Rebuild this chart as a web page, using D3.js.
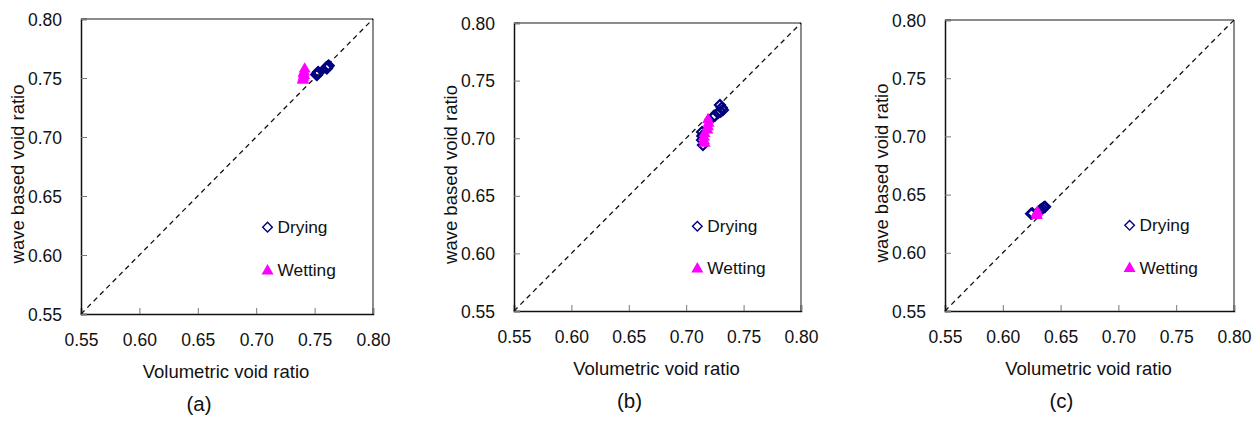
<!DOCTYPE html>
<html>
<head>
<meta charset="utf-8">
<script src="https://cdn.jsdelivr.net/npm/d3@7"></script>
<style>
  html, body { margin: 0; padding: 0; background: #fff; }
  svg { display: block; }
  text { font-family: "Liberation Sans", Arial, sans-serif; fill: #111; }
</style>
</head>
<body>
<svg id="chart" width="1260" height="422"></svg>
<script>
// ---- data ----
const tickValues = [0.55, 0.60, 0.65, 0.70, 0.75, 0.80];
const tickLabels = ["0.55", "0.60", "0.65", "0.70", "0.75", "0.80"];
const panelLabels = ["(a)", "(b)", "(c)"];
const seriesNames = ["Drying", "Wetting"];
const xTitle = "Volumetric void ratio";
const yTitle = "wave based void ratio";

// panel (a)
const dryAx = [0.7515, 0.7525, 0.7535, 0.7520, 0.7530, 0.7600, 0.7610, 0.7620, 0.7605, 0.7615];
const dryAy = [0.7530, 0.7540, 0.7545, 0.7525, 0.7550, 0.7590, 0.7595, 0.7605, 0.7580, 0.7600];
const wetAx = [0.7400, 0.7405, 0.7410, 0.7405, 0.7410, 0.7415, 0.7400];
const wetAy = [0.7490, 0.7505, 0.7520, 0.7535, 0.7550, 0.7575, 0.7480];

// panel (b)
const dryBx = [0.7294, 0.7320, 0.7310, 0.7277, 0.7300, 0.7233, 0.7250, 0.7138, 0.7138, 0.7146, 0.7140];
const dryBy = [0.7288, 0.7245, 0.7265, 0.7219, 0.7230, 0.7184, 0.7195, 0.7054, 0.6984, 0.6941, 0.7020];
const wetBx = [0.7190, 0.7195, 0.7190, 0.7185, 0.7160, 0.7155, 0.7155, 0.7160];
const wetBy = [0.7160, 0.7130, 0.7100, 0.7070, 0.7040, 0.7010, 0.6980, 0.6955];

// panel (c)
const dryCx = [0.6245, 0.6255, 0.6325, 0.6340, 0.6355, 0.6365];
const dryCy = [0.6335, 0.6340, 0.6370, 0.6378, 0.6390, 0.6395];
const wetCx = [0.6290, 0.6300, 0.6295];
const wetCy = [0.6335, 0.6350, 0.6320];

// legend anchor (data coordinates)
const legendX = 0.7097;
const legendY = [0.6236, 0.5865];

// ---- layout ----
const panels = [
  {L: 81,  R: 373,  T: 19, B: 314, dx: dryAx, dy: dryAy, wx: wetAx, wy: wetAy, label: panelLabels[0]},
  {L: 514, R: 801,  T: 23, B: 311, dx: dryBx, dy: dryBy, wx: wetBx, wy: wetBy, label: panelLabels[1]},
  {L: 945, R: 1234, T: 20, B: 311, dx: dryCx, dy: dryCy, wx: wetCx, wy: wetCy, label: panelLabels[2]}
];

const svg = d3.select("#chart");
const diamondPath = "M0,-5L5,0L0,5L-5,0Z";
const triSym = d3.symbol().type(d3.symbolTriangle).size(62)();
const tickFont = "17.5px";

panels.forEach(p => {
  const x = d3.scaleLinear().domain([0.55, 0.80]).range([p.L, p.R]);
  const y = d3.scaleLinear().domain([0.55, 0.80]).range([p.B, p.T]);
  const g = svg.append("g");

  // frame: top/right gray
  g.append("line").attr("x1", p.L).attr("x2", p.R).attr("y1", p.T).attr("y2", p.T)
    .attr("stroke", "#666").attr("stroke-width", 1.5);
  g.append("line").attr("x1", p.R).attr("x2", p.R).attr("y1", p.T).attr("y2", p.B)
    .attr("stroke", "#666").attr("stroke-width", 1.5);

  // axes with inward ticks
  const xAxis = d3.axisBottom(x).tickValues(tickValues).tickSize(-6)
    .tickFormat((d, i) => tickLabels[i]).tickPadding(0);
  const yAxis = d3.axisLeft(y).tickValues(tickValues).tickSize(-6)
    .tickFormat((d, i) => tickLabels[i]).tickPadding(0);

  const gx = g.append("g").attr("transform", `translate(0,${p.B})`).call(xAxis);
  gx.select(".domain").attr("stroke", "#111").attr("stroke-width", 1.5);
  gx.selectAll(".tick line").attr("stroke", "#777").attr("stroke-width", 1);
  gx.selectAll(".tick text").attr("y", 32).attr("dy", 0)
    .style("font-size", tickFont).style("font-family", "Liberation Sans, Arial, sans-serif").attr("fill", "#111");

  const gy = g.append("g").attr("transform", `translate(${p.L},0)`).call(yAxis);
  gy.select(".domain").attr("stroke", "#111").attr("stroke-width", 1.5);
  gy.selectAll(".tick line").attr("stroke", "#777").attr("stroke-width", 1);
  gy.selectAll(".tick text").attr("x", -19).attr("dy", "0.35em")
    .style("font-size", tickFont).style("font-family", "Liberation Sans, Arial, sans-serif").attr("fill", "#111");

  // 1:1 dashed line
  g.append("line")
    .attr("x1", x(0.55)).attr("y1", y(0.55)).attr("x2", x(0.80)).attr("y2", y(0.80))
    .attr("stroke", "#111").attr("stroke-width", 1.3).attr("stroke-dasharray", "5,4");

  // drying points
  g.append("g").selectAll("path").data(p.dx.map((v, i) => [v, p.dy[i]])).join("path")
    .attr("d", diamondPath)
    .attr("transform", d => `translate(${x(d[0])},${y(d[1])})`)
    .attr("fill", "none").attr("stroke", "#000080").attr("stroke-width", 2.2);

  // wetting points
  g.append("g").selectAll("path").data(p.wx.map((v, i) => [v, p.wy[i]])).join("path")
    .attr("d", triSym)
    .attr("transform", d => `translate(${x(d[0])},${y(d[1])})`)
    .attr("fill", "#ff00ff");

  // legend
  const lx = x(legendX);
  const ly0 = y(legendY[0]);
  const ly1 = y(legendY[1]);
  g.append("path").attr("d", "M0,-4.8L4.8,0L0,4.8L-4.8,0Z").attr("transform", `translate(${lx},${ly0})`)
    .attr("fill", "none").attr("stroke", "#000080").attr("stroke-width", 1.4);
  g.append("text").attr("x", lx + 10).attr("y", ly0 + 5.5).style("font-size", "17.3px").text(seriesNames[0]);
  g.append("path").attr("d", triSym).attr("transform", `translate(${lx},${ly1})`).attr("fill", "#ff00ff");
  g.append("text").attr("x", lx + 10).attr("y", ly1 + 5.5).style("font-size", "17.3px").text(seriesNames[1]);

  // titles
  const cx = (p.L + p.R) / 2;
  const cy = (p.T + p.B) / 2;
  g.append("text").attr("x", cx - 1).attr("y", p.B + 64).attr("text-anchor", "middle")
    .style("font-size", "18.5px").text(xTitle);
  g.append("text").attr("transform", `translate(${p.L - 57},${cy + 7.5}) rotate(-90)`)
    .attr("text-anchor", "middle").style("font-size", "18.5px").text(yTitle);
  g.append("text").attr("x", cx - 28).attr("y", p.B + 97).attr("text-anchor", "middle")
    .style("font-size", "20.5px").text(p.label);
});
</script>
</body>
</html>
